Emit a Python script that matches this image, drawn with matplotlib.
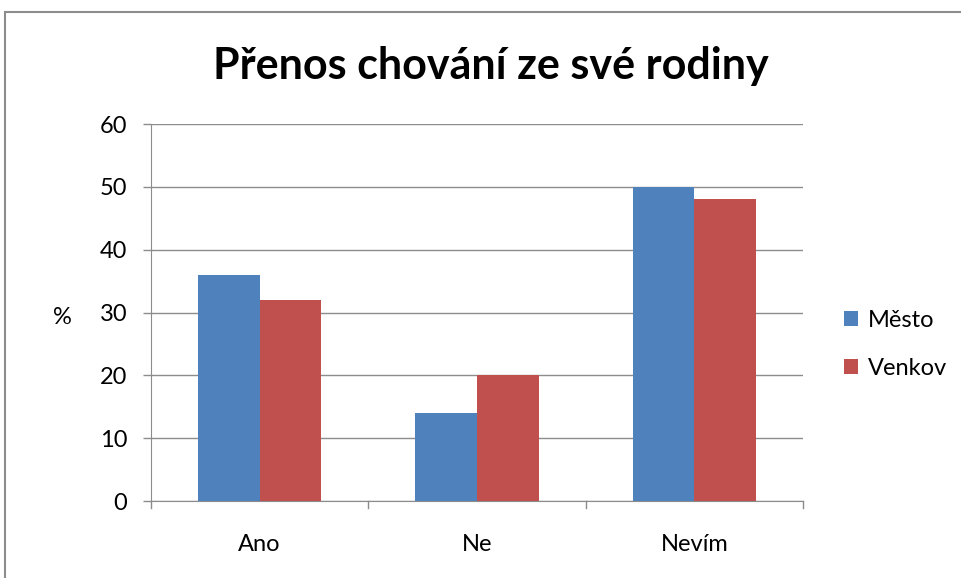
import matplotlib
matplotlib.use('Agg')
import matplotlib.pyplot as plt
from matplotlib.patches import Rectangle
import numpy as np

# data
categories = ['Ano', 'Ne', 'Nevím']
mesto = [36, 14, 50]
venkov = [32, 20, 48]
series_names = ['Město', 'Venkov']
yticks = [0, 10, 20, 30, 40, 50, 60]

plt.rcParams['font.family'] = ['Lato', 'DejaVu Sans']

fig = plt.figure(figsize=(9.61, 5.78), dpi=100)
ax = fig.add_axes([0.1571, 0.1332, 0.6785, 0.6522])

# outer chart border (only top and left are visible in the picture)
fig.patches.append(Rectangle((5 / 961, -0.5), 2, 1.5 - 12 / 578, transform=fig.transFigure,
                             fill=False, edgecolor='#8c8c8c', linewidth=1.5))

x = np.arange(len(categories))
w = 0.283
ax.bar(x - w / 2, mesto, w, color='#4F81BD', label=series_names[0], zorder=3)
ax.bar(x + w / 2, venkov, w, color='#C0504D', label=series_names[1], zorder=3)

ax.set_xlim(-0.5, len(categories) - 0.5)
ax.set_ylim(0, 60)
ax.set_yticks(yticks)
ax.yaxis.grid(True, color='#8c8c8c', linewidth=1, zorder=0)

# category labels between the boundary ticks
ax.set_xticks(x)
ax.set_xticklabels(categories, fontsize=17)
ax.tick_params(axis='x', length=0, pad=24)
for b in np.arange(-0.5, len(categories), 1):
    ax.plot([b, b], [0, -0.018], transform=ax.get_xaxis_transform(), color='#8c8c8c',
            linewidth=1, clip_on=False)

ax.tick_params(axis='y', labelsize=17, color='#8c8c8c', length=6, width=1, pad=11)
for s in ['top', 'right']:
    ax.spines[s].set_visible(False)
for s in ['left', 'bottom']:
    ax.spines[s].set_color('#8c8c8c')

fig.text(62 / 961, 1 - 318 / 578, '%', fontsize=17, ha='center', va='center')
fig.text(491 / 961, 1 - 66 / 578, 'Přenos chování ze své rodiny', fontsize=31,
         fontweight='bold', ha='center', va='center')

ax.legend(loc='center left', bbox_to_anchor=(1.03, 0.415), frameon=False, fontsize=17,
          handlelength=0.6, handleheight=0.6, labelspacing=1.15, handletextpad=0.4)

fig.savefig('out.png', dpi=100)
